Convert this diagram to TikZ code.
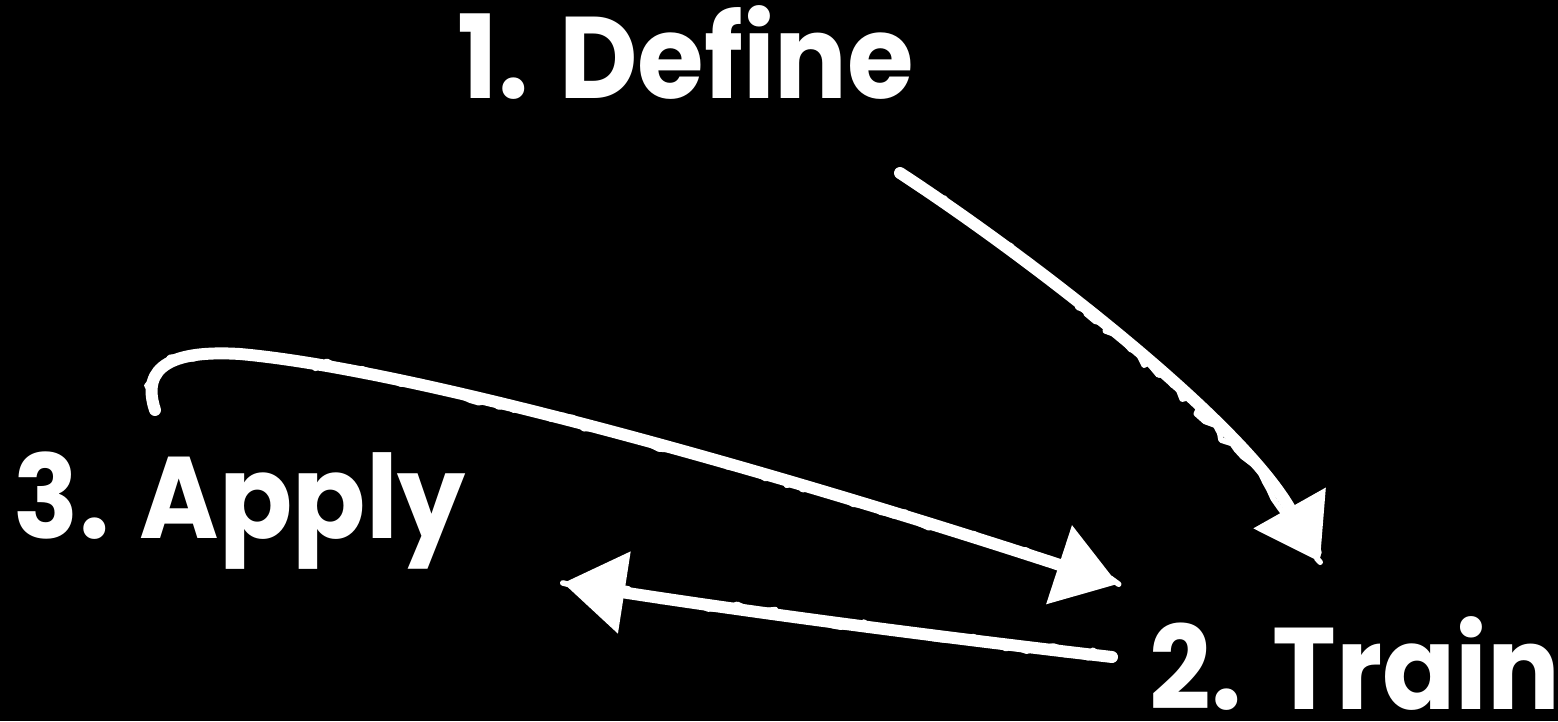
\documentclass[tikz,border=0pt]{standalone}
\usepackage{fontspec}
\setmainfont{Poppins}[FakeStretch=0.93]
\usetikzlibrary{arrows.meta,positioning,decorations.pathmorphing}
\tikzset{
  lbl/.style={text=white,font=\fontsize{33}{40}\selectfont\bfseries,inner sep=0pt,anchor=base},
  chalk/.style={-{Triangle[length=6.2mm,width=8mm]},line width=3.4pt,white,
                line cap=round,line join=round,
                postaction={draw=white,-,line width=1.6pt,decorate,
                  decoration={random steps,segment length=2.5pt,amplitude=1.3pt}}},
}

\begin{document}
\begin{tikzpicture}[x=0.01cm,y=-0.01cm]
  \fill[black] (0,0) rectangle (1558,721);
  \useasboundingbox (0,0) rectangle (1558,721);
  % labels
  \node[lbl] (define) at (686,98) {1. Define};
  \node[lbl] (apply) at (240,538) {3. Apply};
  \node[lbl] (train) at (1355,709) {2. Train};
  % arrow ends
  \coordinate (d0) at (900,173);
  \coordinate (d1) at (1320,562);
  \coordinate (a0) at (155,410);
  \coordinate (a1) at (1118,584);
  \coordinate (t0) at (1112,657);
  \coordinate (t1) at (563,583);
  % arrows
  \draw[chalk] (d0) .. controls (1030,258) and (1240,420) .. (d1);
  \draw[chalk] (a0) .. controls (140,365) and (175,350) .. (240,354)
               .. controls (420,370) and (800,480) .. (a1);
  \draw[chalk] (t0) .. controls (930,636) and (750,612) .. (t1);
\end{tikzpicture}
\end{document}
